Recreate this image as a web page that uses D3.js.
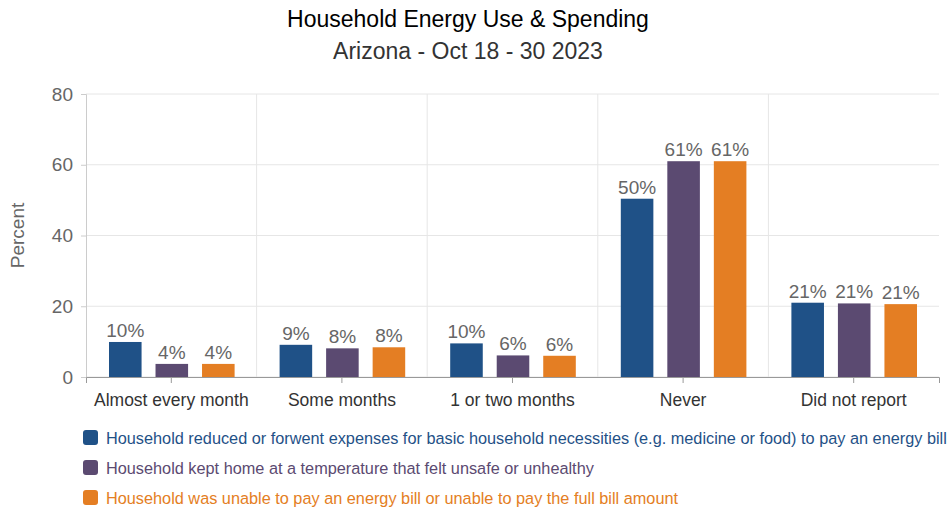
<!DOCTYPE html>
<html>
<head>
<meta charset="utf-8">
<script src="https://cdn.jsdelivr.net/npm/d3@7"></script>
<style>
  body { margin: 0; background: #fff; font-family: "Liberation Sans", Arial, sans-serif; }
</style>
</head>
<body>
<div id="chart"></div>
<script>
// Data
const categories = ["Almost every month", "Some months", "1 or two months", "Never", "Did not report"];
const seriesNames = [
    "Household reduced or forwent expenses for basic household necessities (e.g. medicine or food) to pay an energy bill",
    "Household kept home at a temperature that felt unsafe or unhealthy",
    "Household was unable to pay an energy bill or unable to pay the full bill amount"
];
const reducedExpenses = [9.9, 9.1, 9.5, 50.4, 21.0];
const unsafeTemp = [3.7, 8.1, 6.1, 61.0, 20.8];
const unableToPay = [3.7, 8.4, 6.0, 61.0, 20.6];
const yTicks = [0, 20, 40, 60, 80];
const colors = ["#1f5187", "#5b4a71", "#e47e23"];

const seriesValues = [reducedExpenses, unsafeTemp, unableToPay];

const width = 952, height = 510;
const margin = {top: 94, right: 13, bottom: 133, left: 86};
const innerW = width - margin.left - margin.right;
const innerH = height - margin.top - margin.bottom;

const svg = d3.select("#chart")
    .append("svg")
    .attr("width", width)
    .attr("height", height);

// Title
svg.append("text")
    .attr("x", width / 2 - 8)
    .attr("y", 27)
    .attr("text-anchor", "middle")
    .attr("font-size", 23)
    .attr("fill", "#000")
    .text("Household Energy Use & Spending");
svg.append("text")
    .attr("x", width / 2 - 8)
    .attr("y", 59)
    .attr("text-anchor", "middle")
    .attr("font-size", 23)
    .attr("fill", "#333")
    .text("Arizona - Oct 18 - 30 2023");

const g = svg.append("g").attr("transform", `translate(${margin.left},${margin.top})`);

const x = d3.scaleBand().domain(categories).range([0, innerW]).paddingInner(0).paddingOuter(0);
const xInner = d3.scaleBand().domain(d3.range(seriesNames.length)).range([23, x.bandwidth() - 22]).paddingInner(0.3);
const y = d3.scaleLinear().domain([0, 80]).range([innerH, 0]);

// Horizontal gridlines
g.selectAll(".hgrid")
    .data(yTicks)
    .enter()
    .append("line")
    .attr("x1", 0)
    .attr("x2", innerW)
    .attr("y1", d => y(d))
    .attr("y2", d => y(d))
    .attr("stroke", "#e6e6e6");

// Vertical gridlines between categories
g.selectAll(".vgrid")
    .data(categories.slice(1))
    .enter()
    .append("line")
    .attr("x1", d => x(d))
    .attr("x2", d => x(d))
    .attr("y1", 0)
    .attr("y2", innerH)
    .attr("stroke", "#e6e6e6");

// Y axis
const yAxis = g.append("g")
    .call(d3.axisLeft(y).tickValues(yTicks).tickSize(5).tickPadding(8));
yAxis.select(".domain").attr("stroke", "#ccc");
yAxis.selectAll(".tick line").attr("stroke", "#ccc");
yAxis.selectAll("text")
    .attr("font-size", 19)
    .attr("fill", "#666")
    .attr("font-family", "Liberation Sans, Arial, sans-serif");

// Y title
svg.append("text")
    .attr("transform", `translate(24,${margin.top + innerH / 2}) rotate(-90)`)
    .attr("text-anchor", "middle")
    .attr("font-size", 19)
    .attr("fill", "#666")
    .text("Percent");

// Bars
const groups = g.selectAll(".cat")
    .data(categories)
    .enter()
    .append("g")
    .attr("transform", d => `translate(${x(d)},0)`);

groups.each(function(cat, ci) {
    const grp = d3.select(this);
    seriesValues.forEach((vals, si) => {
        grp.append("rect")
            .attr("x", xInner(si))
            .attr("y", y(vals[ci]))
            .attr("width", xInner.bandwidth())
            .attr("height", y(0) - y(vals[ci]))
            .attr("fill", colors[si]);
        grp.append("text")
            .attr("x", xInner(si) + xInner.bandwidth() / 2)
            .attr("y", y(vals[ci]) - 5)
            .attr("text-anchor", "middle")
            .attr("font-size", 19)
            .attr("fill", "#666")
            .text(Math.round(vals[ci]) + "%");
    });
});

// X axis
const xAxis = g.append("g")
    .attr("transform", `translate(0,${innerH})`)
    .call(d3.axisBottom(x).tickSize(6).tickPadding(11));
xAxis.select(".domain").attr("stroke", "#999");
xAxis.selectAll(".tick line").attr("stroke", "#999");
xAxis.selectAll("text")
    .attr("font-size", 17.5)
    .attr("fill", "#333")
    .attr("font-family", "Liberation Sans, Arial, sans-serif");

// Legend
const legend = svg.selectAll(".legend")
    .data(seriesNames)
    .enter()
    .append("g")
    .attr("transform", (d, i) => `translate(83,${438 + i * 30})`);
legend.append("rect")
    .attr("x", 0)
    .attr("y", -8)
    .attr("width", 15)
    .attr("height", 15)
    .attr("rx", 3)
    .attr("fill", (d, i) => colors[i]);
legend.append("text")
    .attr("x", 23)
    .attr("y", 5.5)
    .attr("font-size", 16.3)
    .attr("fill", (d, i) => colors[i])
    .text(d => d);
</script>
</body>
</html>
